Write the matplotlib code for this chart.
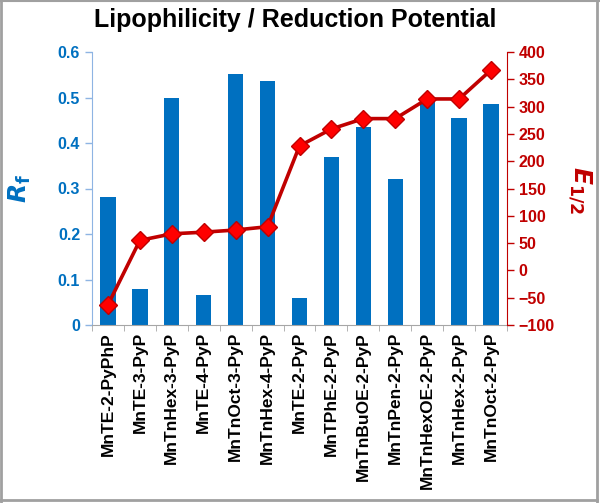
import matplotlib
matplotlib.use("Agg")
import matplotlib.pyplot as plt
from matplotlib.lines import Line2D
import numpy as np

categories = ["MnTE-2-PyPhP", "MnTE-3-PyP", "MnTnHex-3-PyP", "MnTE-4-PyP",
              "MnTnOct-3-PyP", "MnTnHex-4-PyP", "MnTE-2-PyP", "MnTPhE-2-PyP",
              "MnTnBuOE-2-PyP", "MnTnPen-2-PyP", "MnTnHexOE-2-PyP",
              "MnTnHex-2-PyP", "MnTnOct-2-PyP"]
rf_values = [0.282, 0.079, 0.500, 0.066, 0.551, 0.536, 0.059, 0.370,
             0.435, 0.320, 0.501, 0.456, 0.486]
e12_values = [-63, 55, 67, 70, 74, 80, 228, 259, 278, 278, 314, 314, 367]
left_ticks = [0, 0.1, 0.2, 0.3, 0.4, 0.5, 0.6]
left_ticklabels = ["0", "0.1", "0.2", "0.3", "0.4", "0.5", "0.6"]
right_ticks = [-100, -50, 0, 50, 100, 150, 200, 250, 300, 350, 400]

plt.rcParams['font.family'] = ['Liberation Sans', 'DejaVu Sans']

BLUE = "#0070C0"
DARKRED = "#C00000"

fig = plt.figure(figsize=(6.0, 5.03), dpi=100)
ax = fig.add_axes([92/600, 1-325/503, (507-92)/600, (325-52)/503])
x = np.arange(len(categories))
ax.bar(x, rf_values, width=0.48, color=BLUE, zorder=2)
ax.set_xlim(-0.5, len(categories)-0.5)
ax.set_ylim(0, 0.6)
ax.set_yticks(left_ticks)
ax.set_yticklabels(left_ticklabels)
ax.tick_params(axis='y', colors=BLUE, labelsize=11.5, length=5, width=1, direction='out')
for lab in ax.get_yticklabels():
    lab.set_fontweight('bold')
    lab.set_color(BLUE)
ax.tick_params(axis='y', color="#8EB4E3")
ax.set_xticks(x)
ax.set_xticklabels(categories, rotation=90, fontsize=12.5, fontweight='bold')
ax.tick_params(axis='x', which='major', length=0, pad=5)
ax.set_xticks(np.arange(-0.5, len(categories)), minor=True)
ax.tick_params(axis='x', which='minor', length=4, color="#A6A6A6", direction='out')
ax.spines['top'].set_visible(False)
ax.spines['right'].set_visible(False)
ax.spines['left'].set_color("#8EB4E3")
ax.spines['bottom'].set_color("#A6A6A6")

ax2 = ax.twinx()
ax2.plot(x, e12_values, color=DARKRED, linewidth=2.6, marker='D', markersize=9,
         markerfacecolor="#FF0000", markeredgecolor=DARKRED, markeredgewidth=1, zorder=3)
ax2.set_ylim(-100, 400)
ax2.set_yticks(right_ticks)
ax2.tick_params(axis='y', colors=DARKRED, labelsize=11.5, length=5, width=1, direction='out')
for lab in ax2.get_yticklabels():
    lab.set_fontweight('bold')
ax2.spines['top'].set_visible(False)
ax2.spines['left'].set_visible(False)
ax2.spines['bottom'].set_visible(False)
ax2.spines['right'].set_color(DARKRED)

fig.text(20/600, 1-188/503, r"$\boldsymbol{R}_{\mathbf{f}}$", color=BLUE, fontsize=18,
         rotation=90, ha='center', va='center')
fig.text(580/600, 1-190/503, r"$\boldsymbol{E}_{\mathbf{1/2}}$", color=DARKRED, fontsize=18,
         rotation=270, ha='center', va='center')

fig.text(0.4925, 1-20/503, "Lipophilicity / Reduction Potential", ha='center', va='center',
         fontsize=18, fontweight='bold')

gray = "#A0A0A0"
fig.add_artist(Line2D([0.002, 0.002], [0, 1], transform=fig.transFigure, color=gray, lw=2))
fig.add_artist(Line2D([0, 1], [0.999, 0.999], transform=fig.transFigure, color=gray, lw=1.5))
fig.add_artist(Line2D([597/600, 597/600], [0, 1], transform=fig.transFigure, color=gray, lw=2))
fig.add_artist(Line2D([0, 597/600], [1-500/503, 1-500/503], transform=fig.transFigure, color=gray, lw=2))

fig.savefig("out.png", dpi=100)
